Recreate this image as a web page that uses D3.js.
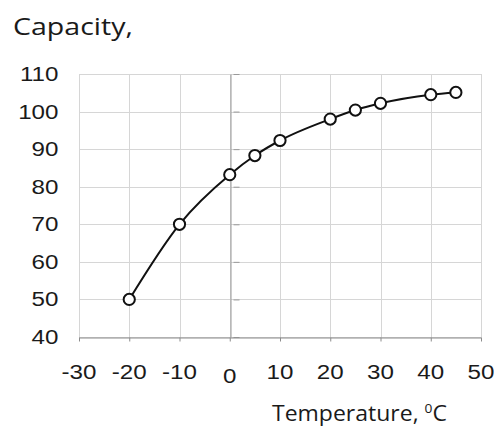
<!DOCTYPE html>
<html><head><meta charset="utf-8">
<script src="https://cdn.jsdelivr.net/npm/d3@7"></script>
<style>html,body{margin:0;padding:0;background:#fff;}</style>
</head><body>
<svg id="c" width="494" height="428"></svg>
<script>
const temps = [-20, -10, 0, 5, 10, 20, 25, 30, 40, 45];
const capacity = [50, 70, 83.2, 88.3, 92.3, 98, 100.4, 102.2, 104.5, 105.1];
const xTicks = [-30, -20, -10, 0, 10, 20, 30, 40, 50];
const yTicks = [40, 50, 60, 70, 80, 90, 100, 110];
const yTitle = "Capacity,";
const xTitle = "Temperature, ";

const svg = d3.select("#c");
const L = 79, R = 481, T = 74, B = 337;
const x = d3.scaleLinear().domain([-30, 50]).range([L, R]);
const y = d3.scaleLinear().domain([40, 110]).range([B, T]);
const SX = 1.24;
const numFont = "'Liberation Sans', Arial, sans-serif";
const txtFont = "'Open Sans', 'Noto Sans', sans-serif";

const grid = svg.append("g");
grid.selectAll("line.v").data(xTicks).join("line")
  .attr("x1", d => Math.round(x(d)) + 0.5).attr("x2", d => Math.round(x(d)) + 0.5)
  .attr("y1", T).attr("y2", B)
  .attr("stroke", "#d6d6d6").attr("stroke-width", 1);
grid.selectAll("line.h").data(yTicks).join("line")
  .attr("y1", d => Math.round(y(d)) + 0.5).attr("y2", d => Math.round(y(d)) + 0.5)
  .attr("x1", L).attr("x2", R)
  .attr("stroke", "#d6d6d6").attr("stroke-width", 1);

// y axis at x = 0
const x0 = Math.round(x(0)) + 0.5;
const yAxis = svg.append("g").attr("transform", `translate(${x0 + 3},0)`)
  .call(d3.axisLeft(y).tickValues(yTicks).tickSizeInner(-6).tickSizeOuter(0).tickFormat(""));
yAxis.select(".domain").attr("stroke", "#9a9a9a").attr("transform", "translate(-3,0)");
yAxis.selectAll(".tick line").attr("stroke", "#9a9a9a");

// bottom axis
const xAxis = svg.append("g").attr("transform", `translate(0,${B + 0.5})`)
  .call(d3.axisBottom(x).tickValues(xTicks).tickSizeInner(4).tickSizeOuter(0).tickFormat(""));
xAxis.select(".domain").attr("stroke", "#8c8c8c");
xAxis.selectAll(".tick line").attr("stroke", "#8c8c8c");

// tick labels (horizontally stretched like the reference)
svg.append("g").selectAll("text").data(yTicks).join("text")
  .attr("transform", d => `translate(58.5,${y(d)}) scale(${SX},1)`)
  .attr("dy", "0.36em")
  .attr("text-anchor", "end")
  .attr("font-family", numFont)
  .attr("font-size", 19.5).attr("fill", "#1a1a1a")
  .text(d => d);
svg.append("g").selectAll("text").data(xTicks).join("text")
  .attr("transform", d => `translate(${x(d)},${d === 0 ? 383 : 379}) scale(${SX},1)`)
  .attr("text-anchor", "middle")
  .attr("font-family", numFont)
  .attr("font-size", 19.5).attr("fill", "#1a1a1a")
  .text(d => d);

// line
const pts = temps.map((t, i) => [t, capacity[i]]);
svg.append("path").datum(pts)
  .attr("fill", "none").attr("stroke", "#111").attr("stroke-width", 2)
  .attr("d", d3.line().x(d => x(d[0])).y(d => y(d[1])).curve(d3.curveMonotoneX));
svg.append("g").selectAll("circle").data(pts).join("circle")
  .attr("cx", d => x(d[0])).attr("cy", d => y(d[1])).attr("r", 5.6)
  .attr("fill", "#fff").attr("stroke", "#111").attr("stroke-width", 2);

// titles, stretched to reference widths
function fitText(sel, x0, base, width) {
  const w = sel.node().getBBox().width;
  sel.attr("transform", `translate(${x0},${base}) scale(${width / w},1)`);
}
const yt = svg.append("text").attr("x", 0).attr("y", 0)
  .attr("font-family", txtFont).attr("font-size", 23.5)
  .attr("fill", "#1a1a1a").text(yTitle);
fitText(yt, 13, 35, 120);
const xt = svg.append("text").attr("x", 0).attr("y", 0)
  .attr("font-family", txtFont).attr("font-size", 22.5)
  .attr("fill", "#1a1a1a");
xt.append("tspan").text(xTitle);
xt.append("tspan").attr("font-size", 13.5).attr("dy", -8).text("0");
xt.append("tspan").attr("dy", 8).text("C");
fitText(xt, 272, 421, 175);
</script>
</body></html>
